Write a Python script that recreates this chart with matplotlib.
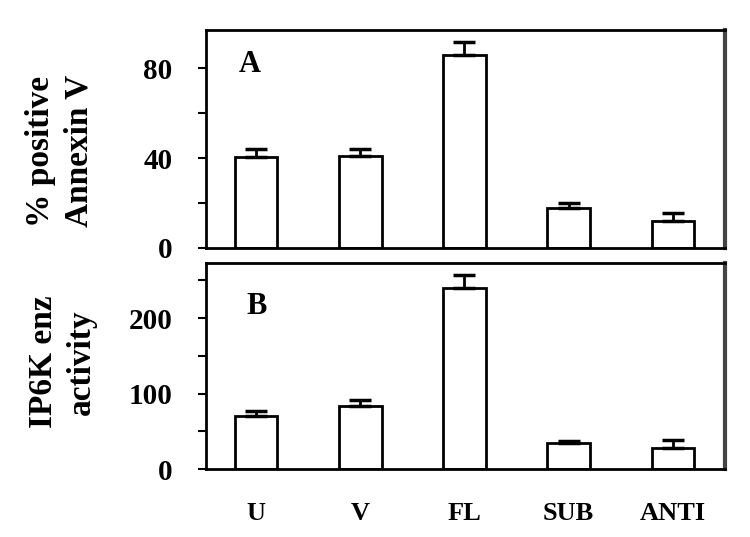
import numpy as np
import matplotlib.pyplot as plt

# categories and values
groups = ['U', 'V', 'FL', 'SUB', 'ANTI']
annexin = [40.5, 41, 86, 18, 12]
annexin_err = [3.5, 3, 5.5, 2, 3.5]
ip6k = [70, 83, 240, 34, 28]
ip6k_err = [7, 8, 17, 3, 10]

plt.rcParams['font.family'] = ['Liberation Serif', 'DejaVu Serif']
plt.rcParams['font.weight'] = 'bold'

fig = plt.figure(figsize=(7.5, 5.37), dpi=100)
W, H = 750, 537
ax1 = fig.add_axes([206 / W, (H - 248) / H, 519 / W, 218 / H])
ax2 = fig.add_axes([206 / W, (H - 469) / H, 519 / W, 206 / H])

x = np.arange(len(groups))


def panel(ax, vals, errs, ylim, major, minor, letter, lx, ly):
    ax.bar(x, vals, width=0.41, color='white', edgecolor='black', linewidth=2,
           yerr=[np.zeros(len(errs)), errs], capsize=8,
           error_kw=dict(elinewidth=2, capthick=2.5, ecolor='black'))
    ax.set_xlim(-0.48, 4.5)
    ax.set_ylim(*ylim)
    ax.set_yticks(major)
    ax.set_yticks(minor, minor=True)
    ax.tick_params(axis='y', which='both', direction='out', length=6, width=1.5,
                   labelsize=21, pad=18)
    for s in ax.spines.values():
        s.set_linewidth(2)
    ax.spines['right'].set_linewidth(3)
    ax.spines['right'].set_color('#444444')
    ax.text(lx, ly, letter, transform=ax.transAxes, fontsize=22,
            fontweight='bold', va='center', ha='left')


panel(ax1, annexin, annexin_err, (0, 97), [0, 40, 80], [20, 60], 'A', 0.064, 0.84)
panel(ax2, ip6k, ip6k_err, (0, 273), [0, 100, 200], [50, 150, 250], 'B', 0.077, 0.79)

ax1.set_xticks([])
ax2.set_xticks(x)
ax2.set_xticklabels(groups, fontsize=19, fontweight='bold')
ax2.tick_params(axis='x', length=0, pad=24)

ax1.set_ylabel('% positive\nAnnexin V', fontsize=24, fontweight='bold',
               linespacing=1.3)
ax2.set_ylabel('IP6K enz\nactivity', fontsize=24, fontweight='bold',
               linespacing=1.3)
ax1.yaxis.set_label_coords(-0.215, 0.445)
ax2.yaxis.set_label_coords(-0.21, 0.52)

fig.savefig('out.png', dpi=100)
